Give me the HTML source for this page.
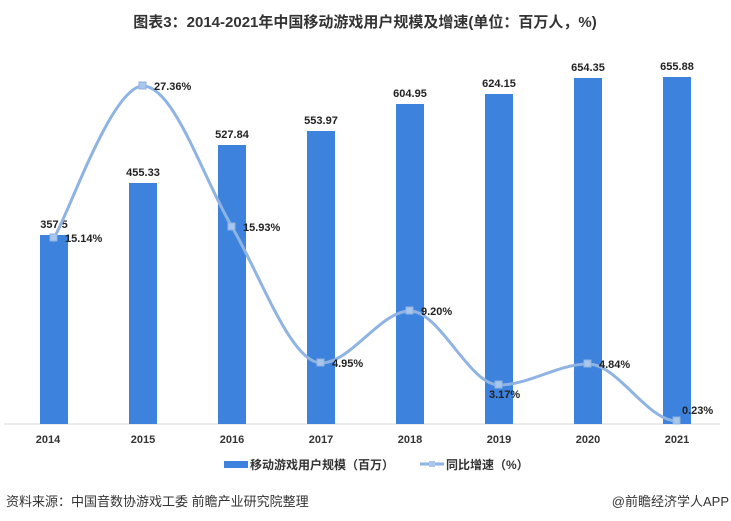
<!DOCTYPE html>
<html><head><meta charset="utf-8"><style>
body{margin:0;background:#fff;}
svg{display:block;font-family:"Liberation Sans","Noto Sans CJK SC",sans-serif;}
</style></head><body>
<svg width="731" height="521" viewBox="0 0 731 521">
<text x="365" y="27" text-anchor="middle" font-size="15" font-weight="bold" fill="#333">图表3：2014-2021年中国移动游戏用户规模及增速(单位：百万人，%)</text>
<line x1="4" y1="424" x2="720" y2="424" stroke="#d9d9d9" stroke-width="1"/>
<g fill="#3d82dc">
<rect x="40" y="235" width="28" height="189"/>
<rect x="129" y="183" width="28" height="241"/>
<rect x="218" y="145" width="28" height="279"/>
<rect x="307" y="131" width="28" height="293"/>
<rect x="396" y="104" width="28" height="320"/>
<rect x="485" y="94" width="28" height="330"/>
<rect x="574" y="78" width="28" height="346"/>
<rect x="663" y="77" width="28" height="347"/>
</g>
<g font-size="11" font-weight="bold" fill="#222" text-anchor="middle">
<text x="54" y="228">357.5</text>
<text x="143" y="176">455.33</text>
<text x="232" y="138">527.84</text>
<text x="321" y="124">553.97</text>
<text x="410" y="97">604.95</text>
<text x="499" y="87">624.15</text>
<text x="588" y="71">654.35</text>
<text x="677" y="70">655.88</text>
</g>
<path d="M54,238 C69,213 112,86 143,86 C174,86 203,178 232,227 C261,276 291,363 321,363 C351,363 380,311 410,311 C440,311 469,385 499,385 C529,385 558,364 588,364 C618,364 647,421 677,421" fill="none" stroke="#8fb3e2" stroke-width="3"/>
<g fill="#a9c6ec" stroke="#8fb3e2" stroke-width="1">
<rect x="50" y="234" width="7" height="7"/><rect x="139" y="82" width="7" height="7"/><rect x="228" y="223" width="7" height="7"/><rect x="317" y="359" width="7" height="7"/><rect x="406" y="307" width="7" height="7"/><rect x="495" y="381" width="7" height="7"/><rect x="584" y="360" width="7" height="7"/><rect x="673" y="417" width="7" height="7"/>
</g>
<g font-size="11" font-weight="bold" fill="#222">
<text x="65" y="242">15.14%</text>
<text x="154" y="90">27.36%</text>
<text x="243" y="231">15.93%</text>
<text x="332" y="367">4.95%</text>
<text x="421" y="315">9.20%</text>
<text x="489" y="398">3.17%</text>
<text x="599" y="368">4.84%</text>
<text x="682" y="414">0.23%</text>
</g>
<g font-size="11" font-weight="bold" fill="#333" text-anchor="middle">
<text x="48" y="443">2014</text><text x="143" y="443">2015</text><text x="232" y="443">2016</text><text x="321" y="443">2017</text><text x="410" y="443">2018</text><text x="499" y="443">2019</text><text x="588" y="443">2020</text><text x="677" y="443">2021</text>
</g>
<rect x="224" y="461" width="24" height="7" fill="#3d82dc"/>
<text x="250" y="469" font-size="12" font-weight="bold" fill="#333">移动游戏用户规模（百万）</text>
<line x1="420" y1="464" x2="444" y2="464" stroke="#8fb3e2" stroke-width="3"/>
<rect x="429" y="461" width="6" height="6" fill="#a9c6ec"/>
<text x="446" y="469" font-size="12" font-weight="bold" fill="#333">同比增速（%）</text>
<text x="6" y="506" font-size="13" fill="#333">资料来源：中国音数协游戏工委 前瞻产业研究院整理</text>
<text x="729" y="506" font-size="13" fill="#333" text-anchor="end">@前瞻经济学人APP</text>
</svg>
</body></html>
